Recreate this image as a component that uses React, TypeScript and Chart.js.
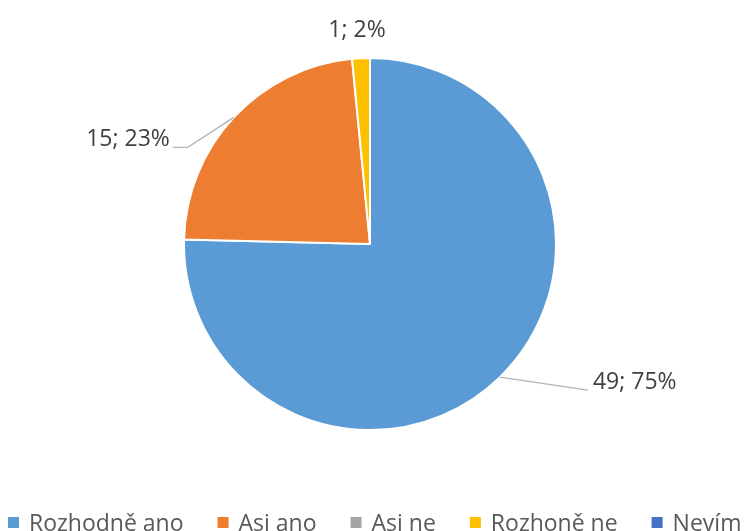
import React, { useEffect, useRef } from "react";
import { Chart, registerables } from "chart.js";

Chart.register(...registerables);

const categories = ["Rozhodně ano", "Asi ano", "Asi ne", "Rozhoně ne", "Nevím"];
const counts = [49, 15, 0, 1, 0];
const colors = ["#5B9BD5", "#ED7D31", "#A5A5A5", "#FFC000", "#4472C4"];

const FONT = '23px "Open Sans", "Noto Sans", sans-serif';

// label placement relative to the slice's outer mid-point
const labelSpecs: Record<number, { elbow?: [number, number]; end?: [number, number]; text: [number, number]; align: CanvasTextAlign }> = {
  0: { end: [88, 13], text: [93, 12], align: "left" },
  1: { elbow: [-46, 30], end: [-61, 30], text: [-64, 29], align: "right" },
  3: { text: [-4, -21], align: "center" },
};

const labelPlugin = {
  id: "pieLabels",
  afterDatasetsDraw(chart: any) {
    const ctx = chart.ctx as CanvasRenderingContext2D;
    const meta = chart.getDatasetMeta(0);
    const data = chart.data.datasets[0].data as number[];
    const total = data.reduce((a, b) => a + b, 0);
    ctx.save();
    meta.data.forEach((arc: any, i: number) => {
      const v = data[i];
      if (!v) return;
      const spec = labelSpecs[i];
      if (!spec) return;
      const mid = (arc.startAngle + arc.endAngle) / 2;
      const ex = arc.x + arc.outerRadius * Math.cos(mid);
      const ey = arc.y + arc.outerRadius * Math.sin(mid);
      if (spec.end) {
        ctx.strokeStyle = "#B4B4B4";
        ctx.lineWidth = 1.4;
        ctx.beginPath();
        ctx.moveTo(ex, ey);
        if (spec.elbow) ctx.lineTo(ex + spec.elbow[0], ey + spec.elbow[1]);
        ctx.lineTo(ex + spec.end[0], ey + spec.end[1]);
        ctx.stroke();
      }
      ctx.fillStyle = "#404040";
      ctx.font = FONT;
      ctx.textAlign = spec.align;
      ctx.textBaseline = "alphabetic";
      const pct = Math.round((v / total) * 100);
      ctx.fillText(`${v}; ${pct}%`, ex + spec.text[0], ey + spec.text[1]);
    });
    ctx.restore();
  },
};

const legendPlugin = {
  id: "bottomLegend",
  afterDraw(chart: any) {
    const ctx = chart.ctx as CanvasRenderingContext2D;
    ctx.save();
    ctx.font = FONT;
    ctx.textAlign = "left";
    ctx.textBaseline = "alphabetic";
    let x = 8;
    const box = 11;
    const baseline = 531;
    const boxTop = 517;
    categories.forEach((c, i) => {
      ctx.fillStyle = colors[i];
      ctx.fillRect(x, boxTop, box, box);
      x += box + 10;
      ctx.fillStyle = "#595959";
      ctx.fillText(c, x, baseline);
      x += ctx.measureText(c).width + 34;
    });
    ctx.restore();
  },
};

export default function App() {
  const ref = useRef<HTMLCanvasElement>(null);
  useEffect(() => {
    if (!ref.current) return;
    const chart = new Chart(ref.current, {
      type: "pie",
      data: {
        labels: categories,
        datasets: [
          {
            data: counts,
            backgroundColor: colors,
            borderColor: "#FFFFFF",
            borderWidth: 2,
            radius: 186,
          } as any,
        ],
      },
      options: {
        responsive: false,
        animation: false,
        devicePixelRatio: 1,
        layout: { padding: { left: 0, right: 5, top: 0, bottom: 43 } },
        plugins: {
          legend: { display: false },
          tooltip: { enabled: false },
        },
      },
      plugins: [labelPlugin, legendPlugin],
    });
    return () => chart.destroy();
  }, []);
  return (
    <div style={{ position: "absolute", left: 0, top: 0, width: 745, height: 531, background: "#fff", overflow: "hidden" }}>
      <canvas ref={ref} width={745} height={531} style={{ display: "block" }} />
    </div>
  );
}
